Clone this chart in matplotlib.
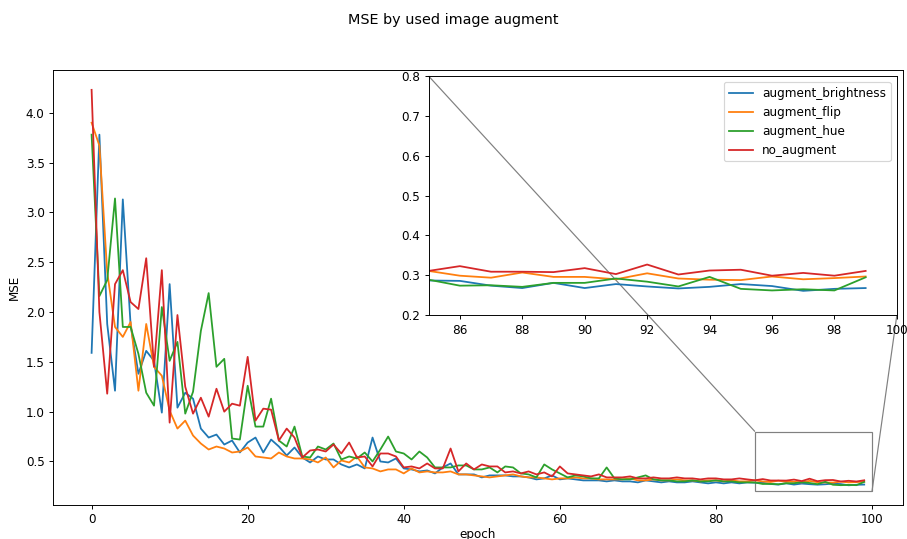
import numpy as np
import matplotlib
matplotlib.use("Agg")
import matplotlib.pyplot as plt
from mpl_toolkits.axes_grid1.inset_locator import zoomed_inset_axes, mark_inset

epochs = np.arange(100)

augment_brightness = [
    1.59, 3.78, 1.88, 1.21, 3.13, 1.87, 1.38, 1.61, 1.51, 0.99,
    2.28, 1.04, 1.19, 1.13, 0.83, 0.74, 0.77, 0.67, 0.71, 0.59,
    0.69, 0.74, 0.59, 0.72, 0.65, 0.56, 0.64, 0.54, 0.49, 0.55,
    0.52, 0.52, 0.47, 0.44, 0.47, 0.43, 0.74, 0.50, 0.49, 0.53,
    0.43, 0.42, 0.40, 0.41, 0.38, 0.44, 0.48, 0.37, 0.37, 0.37,
    0.34, 0.36, 0.36, 0.36, 0.35, 0.35, 0.34, 0.32, 0.33, 0.36,
    0.32, 0.33, 0.32, 0.31, 0.31, 0.31, 0.30, 0.31, 0.30, 0.30,
    0.29, 0.31, 0.30, 0.29, 0.30, 0.29, 0.29, 0.30, 0.29, 0.28,
    0.29, 0.28, 0.29, 0.28, 0.29, 0.287, 0.286, 0.274, 0.268, 0.281,
    0.268, 0.278, 0.272, 0.267, 0.271, 0.278, 0.273, 0.261, 0.266, 0.268,
]
augment_flip = [
    3.90, 3.67, 2.40, 1.85, 1.75, 1.90, 1.21, 1.88, 1.45, 1.36,
    1.01, 0.83, 0.91, 0.76, 0.68, 0.62, 0.65, 0.63, 0.59, 0.60,
    0.64, 0.55, 0.54, 0.53, 0.59, 0.55, 0.53, 0.53, 0.52, 0.49,
    0.54, 0.44, 0.51, 0.49, 0.55, 0.44, 0.43, 0.40, 0.42, 0.42,
    0.38, 0.43, 0.39, 0.40, 0.39, 0.39, 0.40, 0.37, 0.37, 0.36,
    0.35, 0.34, 0.35, 0.36, 0.37, 0.35, 0.34, 0.34, 0.33, 0.32,
    0.33, 0.33, 0.34, 0.33, 0.33, 0.32, 0.32, 0.32, 0.32, 0.33,
    0.31, 0.31, 0.32, 0.31, 0.31, 0.32, 0.31, 0.31, 0.30, 0.31,
    0.31, 0.30, 0.31, 0.30, 0.30, 0.311, 0.299, 0.294, 0.307, 0.296,
    0.296, 0.290, 0.305, 0.292, 0.289, 0.288, 0.297, 0.290, 0.293, 0.297,
]
augment_hue = [
    3.78, 2.16, 2.32, 3.14, 1.85, 1.85, 1.58, 1.19, 1.06, 2.05,
    1.51, 1.70, 0.98, 1.20, 1.81, 2.19, 1.45, 1.53, 0.73, 0.72,
    1.26, 0.85, 0.85, 1.13, 0.71, 0.65, 0.85, 0.55, 0.54, 0.65,
    0.62, 0.68, 0.52, 0.55, 0.53, 0.59, 0.50, 0.62, 0.75, 0.60,
    0.58, 0.52, 0.60, 0.54, 0.44, 0.44, 0.44, 0.46, 0.46, 0.42,
    0.42, 0.44, 0.39, 0.45, 0.44, 0.38, 0.37, 0.34, 0.47, 0.42,
    0.38, 0.34, 0.36, 0.35, 0.33, 0.33, 0.44, 0.33, 0.32, 0.32,
    0.34, 0.36, 0.32, 0.31, 0.31, 0.30, 0.30, 0.31, 0.30, 0.30,
    0.31, 0.30, 0.30, 0.29, 0.29, 0.289, 0.274, 0.275, 0.271, 0.281,
    0.281, 0.292, 0.284, 0.272, 0.296, 0.266, 0.262, 0.265, 0.262, 0.295,
]
no_augment = [
    4.23, 2.00, 1.18, 2.28, 2.42, 2.10, 2.03, 2.54, 1.45, 2.42,
    0.89, 1.97, 1.25, 0.98, 1.14, 0.95, 1.23, 1.00, 1.08, 1.06,
    1.55, 0.91, 1.03, 1.02, 0.71, 0.83, 0.74, 0.54, 0.61, 0.62,
    0.60, 0.67, 0.58, 0.69, 0.54, 0.55, 0.45, 0.58, 0.58, 0.55,
    0.44, 0.45, 0.43, 0.48, 0.43, 0.43, 0.63, 0.40, 0.48, 0.42,
    0.47, 0.45, 0.45, 0.39, 0.40, 0.38, 0.40, 0.37, 0.39, 0.35,
    0.45, 0.38, 0.37, 0.36, 0.35, 0.37, 0.34, 0.34, 0.34, 0.35,
    0.33, 0.33, 0.34, 0.33, 0.33, 0.34, 0.33, 0.33, 0.32, 0.33,
    0.33, 0.32, 0.32, 0.33, 0.32, 0.311, 0.323, 0.309, 0.309, 0.308,
    0.318, 0.303, 0.327, 0.302, 0.312, 0.314, 0.299, 0.306, 0.299, 0.311,
]

series = {
    "augment_brightness": augment_brightness,
    "augment_flip": augment_flip,
    "augment_hue": augment_hue,
    "no_augment": no_augment,
}

DPI = 86
fig = plt.figure(figsize=(907 / DPI, 539 / DPI), dpi=DPI)
ax = fig.add_axes([0.0584, 0.063, 0.937, 0.807])
fig.suptitle("MSE by used image augment", y=0.975)

for name, vals in series.items():
    ax.plot(epochs, vals, label=name)
ax.set_xlabel("epoch", labelpad=1.5)
ax.set_ylabel("MSE")

# zoomed view of the last epochs
axins = zoomed_inset_axes(ax, 4, loc=1)
for name, vals in series.items():
    axins.plot(epochs, vals, label=name)
axins.set_xlim(85, 100)
axins.set_ylim(0.2, 0.8)
axins.set_facecolor("none")
axins.legend(loc="upper right")
mark_inset(ax, axins, loc1=2, loc2=4, fc="none", ec="0.5")

fig.savefig("out.png", dpi=DPI)
